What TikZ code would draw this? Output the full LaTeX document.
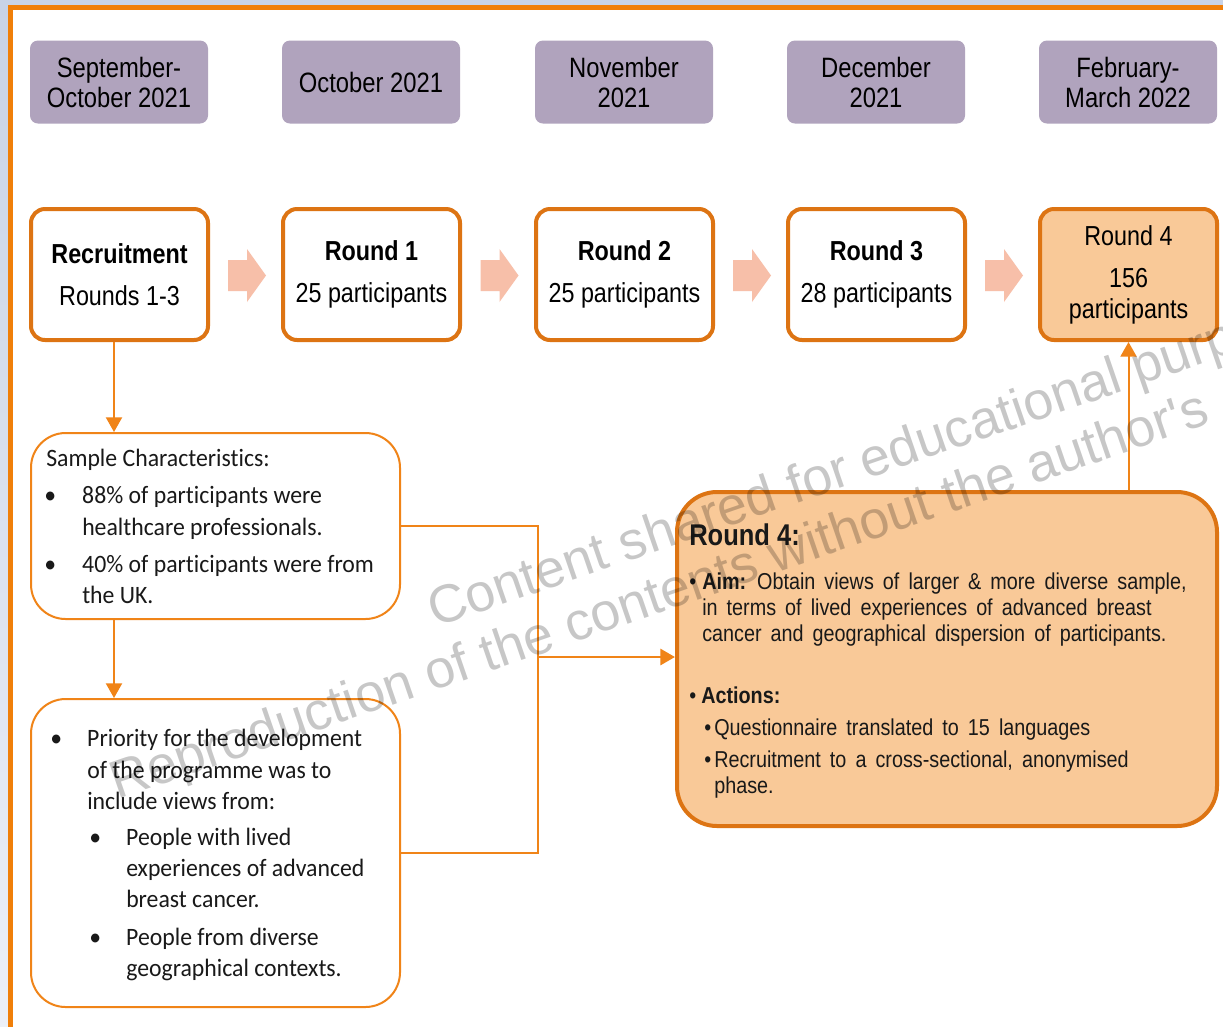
\documentclass[tikz,border=0pt]{standalone}
\usepackage{fontspec}
\setmainfont{Liberation Sans}
\newfontfamily\arialn{Liberation Sans}[FakeStretch=0.85]
\newfontfamily\arialw{Liberation Sans}[FakeStretch=0.86,WordSpace=1.65]
\newfontfamily\calib{Carlito}[FakeStretch=0.95,Ligatures=NoCommon]
\newfontfamily\wmfont{Liberation Sans}[Ligatures=TeXOff]
\usetikzlibrary{arrows.meta,calc}

\definecolor{frameorange}{HTML}{F07F09}
\definecolor{boxorange}{HTML}{DD7413}
\definecolor{lineorange}{HTML}{F08418}
\definecolor{datefill}{HTML}{B0A3BD}
\definecolor{rfourfill}{HTML}{F9C998}
\definecolor{arrowpink}{HTML}{F7BFA9}
\definecolor{stripblue}{HTML}{C8D3E7}

\tikzset{
  datebox/.style={fill=datefill, rounded corners=6pt, minimum width=133.5pt,
    minimum height=62.25pt, inner sep=0pt, align=center,
    font=\arialn\fontsize{21pt}{22.5pt}\selectfont},
  roundbox/.style={draw=boxorange, line width=3pt, fill=white, rounded corners=10.5pt,
    minimum width=132.75pt, minimum height=98.25pt, inner sep=0pt, align=center,
    font=\arialn\fontsize{20.6pt}{31.5pt}\selectfont},
  infobox/.style={draw=lineorange, line width=1.5pt, fill=white, rounded corners=26pt,
    minimum width=276.75pt, inner sep=0pt},
  bigbox/.style={draw=boxorange, line width=3pt, fill=rfourfill, rounded corners=30pt,
    minimum width=405pt, minimum height=250.5pt, inner sep=0pt},
  calibtext/.style={anchor=north west, inner sep=0pt, align=left, text=black!90,
    font=\calib\fontsize{18.75pt}{23.4pt}\selectfont},
  conn/.style={draw=lineorange, line width=1.5pt},
  thinconn/.style={draw=lineorange, line width=1.2pt},
  arr/.style={-{Triangle[width=12pt,length=11pt]}},
  blockarr/.pic={\fill[arrowpink] (-19,-15.5) -- (0,-15.5) -- (0,-26.5) -- (19,0)
    -- (0,26.5) -- (0,15.5) -- (-19,15.5) -- cycle;},
  wmark/.style={anchor=base west, rotate=19, inner sep=0pt, text=black, text opacity=0.22,
    font=\wmfont\fontsize{40pt}{48pt}\selectfont}
}

\begin{document}
\begin{tikzpicture}[x=0.75pt, y=-0.75pt]
\useasboundingbox (0,0) rectangle (1223,1026);
\begin{scope}
\clip (0,0) rectangle (1223,1026);

% page background and slide frame
\fill[white] (0,0) rectangle (1223,1026);
\fill[stripblue] (0,0) rectangle (1223,5);
\shade[top color=stripblue, bottom color=stripblue!35!white] (0,0) rectangle (8,1026);
\draw[frameorange, line width=3.75pt] (10.5,1035) -- (10.5,7) -- (1235,7);

% timeline
\node[datebox] (d1) at (119,82) {September-\\October 2021};
\node[datebox] (d2) at (371,82) {October 2021};
\node[datebox] (d3) at (624,82) {November\\2021};
\node[datebox] (d4) at (876,82) {December\\2021};
\node[datebox] (d5) at (1128,82) {February-\\March 2022};

% rounds
\node[roundbox] (rec) at (119.5,274.5) {\textbf{Recruitment}\\Rounds 1-3};
\node[roundbox] (r1) at (371.5,274.5) {\textbf{Round 1}\\25 participants};
\node[roundbox] (r2) at (624.5,274.5) {\textbf{Round 2}\\25 participants};
\node[roundbox] (r3) at (876.5,274.5) {\textbf{Round 3}\\28 participants};
\node[roundbox, fill=rfourfill, font=\arialn\fontsize{20.6pt}{23.25pt}\selectfont] (r4)
  at (1128.5,274.5) {Round 4\\[8.25pt]156\\participants};

\pic at ($(rec.east)!0.5!(r1.west)+(1.5,1)$) {blockarr};
\pic at ($(r1.east)!0.5!(r2.west)+(1.5,1)$) {blockarr};
\pic at ($(r2.east)!0.5!(r3.west)+(1.5,1)$) {blockarr};
\pic at ($(r3.east)!0.5!(r4.west)+(1.5,1)$) {blockarr};

% sample and priorities
\node[infobox, minimum height=139.5pt] (samp) at (215.5,526) {};
\node[calibtext] (samptxt) at (44,449) {\hspace*{1.5pt}Sample Characteristics:\\[4.5pt]
  \makebox[28.5pt][l]{•}88\% of participants were\\
  \hspace*{28.5pt}healthcare professionals.\\[4.5pt]
  \makebox[28.5pt][l]{•}40\% of participants were from\\
  \hspace*{28.5pt}the UK.};

\node[infobox, minimum height=231pt] (prio) at (215.5,853) {};
\node[calibtext, font=\calib\fontsize{18.75pt}{23.6pt}\selectfont] (priotxt) at (50,729)
  {\makebox[27.75pt][l]{•}Priority for the development\\
  \hspace*{27.75pt}of the programme was to\\
  \hspace*{27.75pt}include views from:\\[3pt]
  \hspace*{29.25pt}\makebox[27.75pt][l]{•}People with lived\\
  \hspace*{57pt}experiences of advanced\\
  \hspace*{57pt}breast cancer.\\[4.2pt]
  \hspace*{29.25pt}\makebox[27.75pt][l]{•}People from diverse\\
  \hspace*{57pt}geographical contexts.};

% round 4 detail
\node[bigbox] (big) at (947,659) {};
\node[anchor=north west, inner sep=0pt, align=left, text=black!90,
  font=\arialw\fontsize{17.25pt}{19.5pt}\selectfont] (bigtxt) at (689,523)
  {{\arialn\fontsize{22.5pt}{19.5pt}\selectfont\textbf{Round 4:}}\\[13.5pt]
  \makebox[9.75pt][l]{•}\textbf{Aim:} Obtain views of larger \& more diverse sample,\\
  \hspace*{9.75pt}in terms of lived experiences of advanced breast\\
  \hspace*{9.75pt}cancer and geographical dispersion of participants.\\[27pt]
  \makebox[9pt][l]{•}\textbf{Actions:}\\[4.5pt]
  \hspace*{11.25pt}\makebox[7.5pt][l]{•}Questionnaire translated to 15 languages\\[4.5pt]
  \hspace*{11.25pt}\makebox[7.5pt][l]{•}Recruitment to a cross-sectional, anonymised\\
  \hspace*{18.75pt}phase.};

% connectors
\coordinate (c1) at ($(rec.south)+(-5.5,0)$);
\draw[conn, arr] (c1) -- (c1 |- samp.north);
\coordinate (c2) at (c1 |- samp.south);
\draw[conn, arr] (c2) -- (c2 |- prio.north);
\coordinate (bx) at (538,657);
\draw[thinconn] (samp.east) -| (bx) |- (prio.east);
\draw[conn, line width=2.2pt, arr] (bx) -- (bx -| big.west);
\draw[conn, arr] (r4.south |- big.north) -- (r4.south);

% overlay notice
\node[wmark] (wm1) at (435,628) {Content shared for educational purposes};
\node[wmark] (wm2) at (117,800) {Reproduction of the contents without the author's};
\end{scope}
\end{tikzpicture}
\end{document}
